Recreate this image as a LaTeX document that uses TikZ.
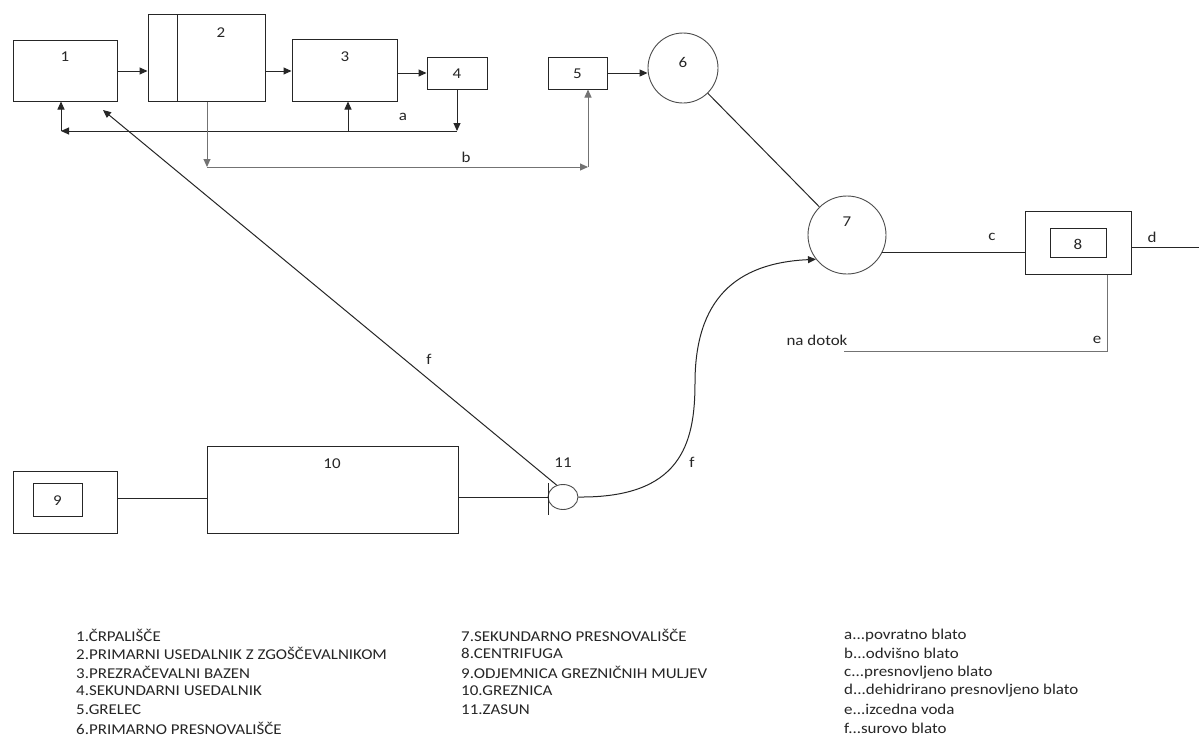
\documentclass[tikz,border=0pt]{standalone}
\usepackage{fontspec}
\setmainfont{Carlito}[FakeStretch=1.13]
\usetikzlibrary{arrows.meta,shapes.geometric}
\begin{document}
\begin{tikzpicture}[x=1pt,y=-1pt,
  ln/.style={line width=1pt, draw=black!85},
  gln/.style={line width=1pt, draw=black!55},
  arr/.style={ln,-{Triangle[length=8pt,width=7pt]}},
  garr/.style={gln,-{Triangle[length=8pt,width=7pt]}},
  box/.style={draw=black!85,line width=1pt,rectangle,inner sep=0pt},
  circ/.style={draw=black!70,line width=0.9pt,circle,inner sep=0pt},
  lbl/.style={font=\fontsize{15}{18}\selectfont, inner sep=0pt, text=black!85},
  leg/.style={font=\fontsize{15}{18}\selectfont, anchor=west, inner sep=0pt, text=black!85}]
\useasboundingbox[fill=white] (0,0) rectangle (1199,747);

% ---- top row boxes
\node[box,minimum width=104pt,minimum height=61pt] (B1) at (65,70.5) {};
\node[lbl] (T1) at (65,57) {1};
\node[box,minimum width=117pt,minimum height=87pt] (B2) at (206.5,57.5) {};
\coordinate (D2a) at (177,14);
\coordinate (D2b) at (177,101);
\draw[ln] (D2a) -- (D2b);
\node[lbl] (T2) at (221,33) {2};
\node[box,minimum width=105pt,minimum height=62pt] (B3) at (344.5,70) {};
\node[lbl] (T3) at (345,57) {3};
\node[box,minimum width=60pt,minimum height=32pt] (B4) at (457,73) {};
\node[lbl] (T4) at (457,74) {4};
\node[box,minimum width=59pt,minimum height=32pt] (B5) at (577.5,73) {};
\node[lbl] (T5) at (577.5,74) {5};
\node[circ,minimum size=70pt] (C6) at (683,68) {};
\node[lbl] (T6) at (683,62) {6};
\node[circ,minimum size=78pt] (C7) at (847,235) {};
\node[lbl] (T7) at (847,222) {7};

% ---- centrifuge
\node[box,minimum width=106pt,minimum height=63pt] (B8) at (1078,242.5) {};
\node[box,minimum width=56pt,minimum height=29pt] (B8i) at (1078,242.5) {};
\node[lbl] (T8) at (1078,244) {8};

% ---- bottom row
\node[box,minimum width=104pt,minimum height=62pt] (B9) at (65,502) {};
\node[box,minimum width=49pt,minimum height=33pt] (B9i) at (57.5,499.5) {};
\node[lbl] (T9) at (57.5,501) {9};
\node[box,minimum width=251pt,minimum height=87pt] (B10) at (332.5,489.5) {};
\node[lbl] (T10) at (332,464) {10};
\node[draw=black!70,line width=0.9pt,ellipse,inner sep=0pt,minimum width=30pt,minimum height=25pt] (E11) at (563,497) {};
\node[lbl] (T11) at (563,463) {11};

% ---- main flow arrows
\draw[arr] (B1.east |- 0,71) -- (B2.west |- 0,71);
\draw[arr] (B2.east |- 0,71) -- (B3.west |- 0,71);
\draw[arr] (B3.east |- 0,73) -- (B4.west |- 0,73);
\draw[arr] (B5.east |- 0,73) -- (C6.west |- 0,73);
\draw[ln] (C6) -- (C7);

% ---- loop a
\coordinate (aR) at (457,131);
\coordinate (a3) at (348,131);
\coordinate (aL) at (61,131);
\draw[arr] (B4.south) -- (aR);
\draw[arr] (aR) -- (aL);
\draw[arr] (aL) -- (aL |- B1.south);
\draw[arr] (a3) -- (a3 |- B3.south);
\node[lbl] (La) at (403,117) {a};

% ---- loop b
\coordinate (bL) at (207,167);
\coordinate (bR) at (588,167);
\draw[garr] (bL |- B2.south) -- (bL);
\draw[garr] (bL) -- (bR);
\draw[garr] (bR) -- (bR |- B5.south);
\node[lbl] (Lb) at (466,157) {b};

% ---- c, d, e
\coordinate (cS) at (882,252);
\draw[ln] (cS) -- (cS -| B8.west);
\node[lbl] (Lc) at (992,237) {c};
\coordinate (dE) at (1199,247);
\draw[ln] (dE -| B8.east) -- (dE);
\node[lbl] (Ld) at (1152,237) {d};
\coordinate (eC) at (1107,351);
\coordinate (eL) at (844,351);
\draw[gln] (eC |- B8.south) -- (eC) -- (eL);
\node[lbl] (Le) at (1097,340) {e};
\node[lbl] (Lnd) at (817,340) {na dotok};

% ---- bottom connections
\coordinate (row) at (0,498);
\draw[ln] (B9.east |- row) -- (B10.west |- row);
\draw[ln] (B10.east |- E11.west) -- (E11.west);
\coordinate (tk1) at (548,483);
\coordinate (tk2) at (548,515);
\draw[ln] (tk1) -- (tk2);

% ---- f lines
\coordinate (fEnd) at (103,110);
\draw[arr] (E11.118) -- (fEnd);
\node[lbl] (Lf1) at (429,359) {f};
\coordinate (fMid) at (695,383);
\draw[arr] (E11.east) .. controls (680,498) and (695,445) .. (fMid)
  .. controls (695,300) and (735,263) .. (C7.218);
\node[lbl] (Lf2) at (692,462) {f};

% ---- legend
\node[leg] (L1) at (76,635) {1.ČRPALIŠČE};
\node[leg] (L2) at (76,653.6) {2.PRIMARNI USEDALNIK Z ZGOŠČEVALNIKOM};
\node[leg] (L3) at (76,672.2) {3.PREZRAČEVALNI BAZEN};
\node[leg] (L4) at (76,690.8) {4.SEKUNDARNI USEDALNIK};
\node[leg] (L5) at (76,709.4) {5.GRELEC};
\node[leg] (L6) at (76,728) {6.PRIMARNO PRESNOVALIŠČE};
\node[leg] (L7) at (461,635) {7.SEKUNDARNO PRESNOVALIŠČE};
\node[leg] (L8) at (461,653.6) {8.CENTRIFUGA};
\node[leg] (L9) at (461,672.2) {9.ODJEMNICA GREZNIČNIH MULJEV};
\node[leg] (L10) at (461,690.8) {10.GREZNICA};
\node[leg] (L11) at (461,709.4) {11.ZASUN};
\node[leg] (La2) at (844,635) {a...povratno blato};
\node[leg] (Lb2) at (844,653.6) {b...odvišno blato};
\node[leg] (Lc2) at (844,672.2) {c...presnovljeno blato};
\node[leg] (Ld2) at (844,690.8) {d...dehidrirano presnovljeno blato};
\node[leg] (Le2) at (844,709.4) {e...izcedna voda};
\node[leg] (Lf3) at (844,728) {f...surovo blato};
\end{tikzpicture}
\end{document}
